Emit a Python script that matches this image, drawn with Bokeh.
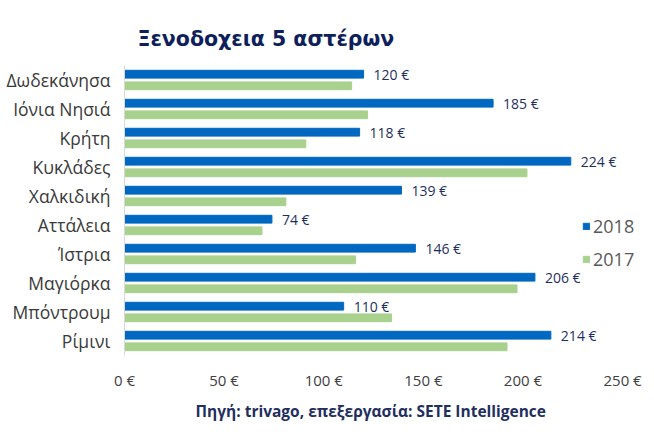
from bokeh.plotting import figure
from bokeh.models import (FactorRange, Range1d, FixedTicker, Legend, LegendItem,
                          Title, ColumnDataSource)
from bokeh.transform import dodge
from bokeh.core.properties import value
from bokeh.embed import file_html
from bokeh.resources import INLINE

cities = ["Δωδεκάνησα", "Ιόνια Νησιά", "Κρήτη", "Κυκλάδες", "Χαλκιδική",
          "Αττάλεια", "Ίστρια", "Μαγιόρκα", "Μπόντρουμ", "Ρίμινι"]
v2018 = [120, 185, 118, 224, 139, 74, 146, 206, 110, 214]
v2017 = [114, 122, 91, 202, 81, 69, 116, 197, 134, 192]
labels2018 = [f"{v} €" for v in v2018]
x_ticks = [0, 50, 100, 150, 200, 250]
x_tick_labels = ["0 €", "50 €", "100 €", "150 €", "200 €", "250 €"]

BLUE = "#0068C1"
GREEN = "#A9D18E"
NAVY = "#0E1F5B"

src = ColumnDataSource(dict(city=cities, v2018=v2018, v2017=v2017, lab=labels2018))

p = figure(width=646, height=435, output_backend="svg", toolbar_location=None,
           y_range=FactorRange(factors=cities[::-1]), x_range=Range1d(0, 262),
           min_border_left=124, min_border_right=0, min_border_top=65,
           min_border_bottom=80)
p.title = None
p.outline_line_color = None
p.xgrid.visible = False
p.ygrid.visible = False

r18 = p.hbar(y=dodge("city", 0.2, range=p.y_range), right="v2018", left=0,
             height=0.27, color=BLUE, source=src)
r17 = p.hbar(y=dodge("city", -0.2, range=p.y_range), right="v2017", left=0,
             height=0.27, color=GREEN, source=src)

p.text(x="v2018", y=dodge("city", 0.2, range=p.y_range), text="lab", x_offset=10,
       text_baseline="middle", text_font=value("Open Sans"), text_font_size="14px",
       text_color="#1F2F5F", source=src)

xa = p.xaxis[0]
xa.ticker = FixedTicker(ticks=x_ticks)
xa.major_label_overrides = {t: l for t, l in zip(x_ticks, x_tick_labels)}
xa.axis_line_color = None
xa.major_tick_line_color = None
xa.minor_tick_line_color = None
xa.major_tick_out = 0
xa.major_label_standoff = 14
xa.major_label_text_font = "Open Sans"
xa.major_label_text_font_size = "15px"
xa.major_label_text_color = "#404040"

ya = p.yaxis[0]
ya.axis_line_color = "#D9D9D9"
ya.axis_line_width = 1
ya.major_tick_line_color = None
ya.minor_tick_line_color = None
ya.major_tick_out = 0
ya.major_label_standoff = 14
ya.major_label_text_font = "Open Sans"
ya.major_label_text_font_size = "17.5px"
ya.major_label_text_color = "#3A3A3A"

legend = Legend(items=[LegendItem(label="2018", renderers=[r18]),
                       LegendItem(label="2017", renderers=[r17])],
                location=(458, 84), padding=0, margin=0, spacing=9,
                glyph_width=8, glyph_height=8, label_height=20, label_standoff=3,
                label_text_font="Open Sans", label_text_font_size="18px",
                label_text_color="#595959", border_line_color=None,
                background_fill_alpha=0)
p.add_layout(legend)

t = Title(text="Ξενοδοχεια 5 αστέρων", align="left", offset=13, standoff=29,
          text_font="DejaVu Sans", text_font_style="bold", text_font_size="20.5px",
          text_color=NAVY)
p.add_layout(t, "above")

s = Title(text="Πηγή: trivago, επεξεργασία: SETE Intelligence", align="left",
          offset=71, text_font="Open Sans", text_font_style="bold",
          text_font_size="15.5px", text_color="#1F2F5F", standoff=11)
p.add_layout(s, "below")

open("out.html", "w").write(file_html(p, INLINE))
